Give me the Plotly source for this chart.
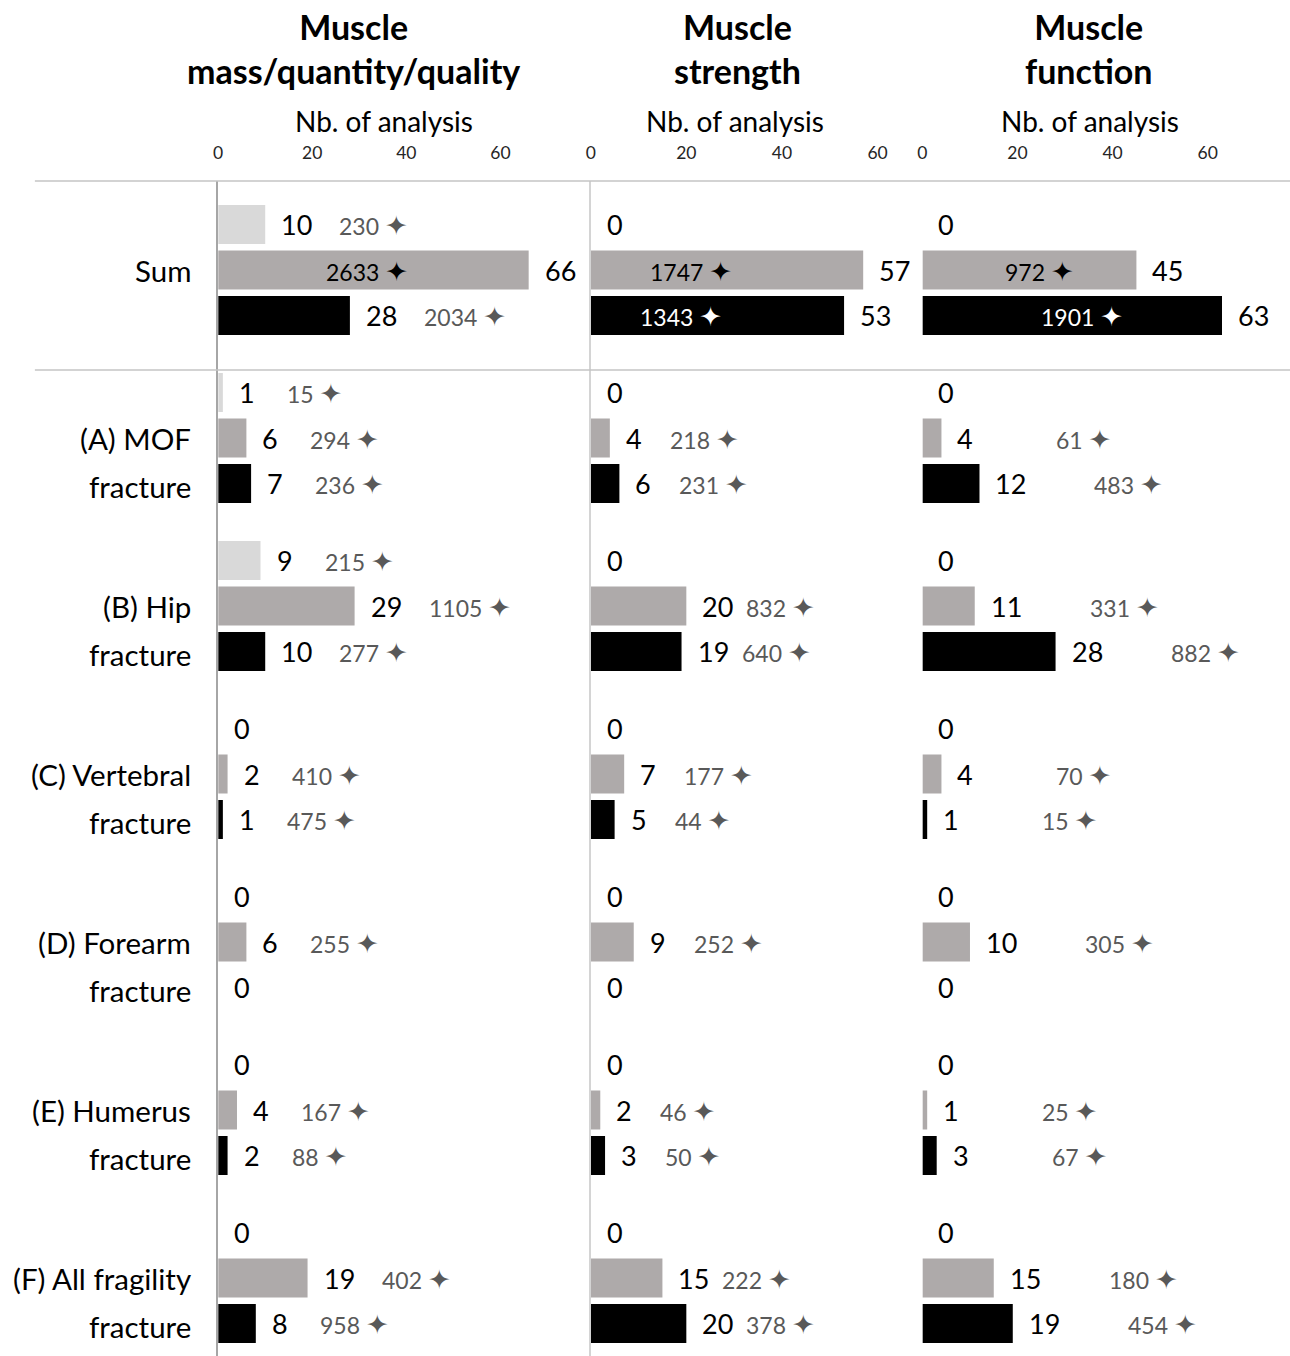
import plotly.graph_objects as go

# ---------------- data ----------------
groups = ["Sum", "(A) MOF fracture", "(B) Hip fracture", "(C) Vertebral fracture",
          "(D) Forearm fracture", "(E) Humerus fracture", "(F) All fragility fracture"]
panel_titles = ["Muscle<br>mass/quantity/quality", "Muscle<br>strength", "Muscle<br>function"]
axis_title = "Nb. of analysis"
tick_values = [0, 20, 40, 60]
series_names = ["Light grey", "Grey", "Black"]

# Muscle mass/quantity/quality
mass_light = [10, 1, 9, 0, 0, 0, 0]
mass_grey = [66, 6, 29, 2, 6, 4, 19]
mass_black = [28, 7, 10, 1, 0, 2, 8]
mass_light_n = [230, 15, 215, None, None, None, None]
mass_grey_n = [2633, 294, 1105, 410, 255, 167, 402]
mass_black_n = [2034, 236, 277, 475, None, 88, 958]

# Muscle strength
strength_light = [0, 0, 0, 0, 0, 0, 0]
strength_grey = [57, 4, 20, 7, 9, 2, 15]
strength_black = [53, 6, 19, 5, 0, 3, 20]
strength_light_n = [None] * 7
strength_grey_n = [1747, 218, 832, 177, 252, 46, 222]
strength_black_n = [1343, 231, 640, 44, None, 50, 378]

# Muscle function
function_light = [0, 0, 0, 0, 0, 0, 0]
function_grey = [45, 4, 11, 4, 10, 1, 15]
function_black = [63, 12, 28, 1, 0, 3, 19]
function_light_n = [None] * 7
function_grey_n = [972, 61, 331, 70, 305, 25, 180]
function_black_n = [1901, 483, 882, 15, None, 67, 454]

# ---------------- style ----------------
W, H = 1290, 1356
TOP = 181
FONT = "Lato, 'DejaVu Sans', sans-serif"
colors = ["#d9d9d9", "#aeaaaa", "#000000"]
STAR = "<span style='font-size:27px'>\u2726</span>"
bargap = 0.1875
bargroupgap = 0.143
slot = (1 - bargap) / 3

panels = [
    dict(counts=[mass_light, mass_grey, mass_black],
         n=[mass_light_n, mass_grey_n, mass_black_n],
         domain=[214 / W, 589 / W], range=[0, 79.4], inside_shift=-6),
    dict(counts=[strength_light, strength_grey, strength_black],
         n=[strength_light_n, strength_grey_n, strength_black_n],
         domain=[588 / W, 922 / W], range=[0, 69.6], inside_shift=-36),
    dict(counts=[function_light, function_grey, function_black],
         n=[function_light_n, function_grey_n, function_black_n],
         domain=[921 / W, 1.0], range=[0, 77.3], inside_shift=10),
]
title_x = [350 / W, 735 / W, 1088 / W]
axtitle_x = [380 / W, 733 / W, 1089 / W]


def star_shift(p, value):
    if p == 0:
        return 52 + 10 * len(str(value))
    if p == 1:
        return 58
    return 113


fig = go.Figure()
annotations = []

for p, panel in enumerate(panels):
    xa = "x" if p == 0 else f"x{p + 1}"
    ya = "y" if p == 0 else f"y{p + 1}"
    for s in range(3):
        vals = panel["counts"][s]
        fig.add_trace(go.Bar(
            y=groups, x=vals, orientation="h", name=series_names[s],
            marker=dict(color=colors[s], line=dict(width=0)),
            xaxis=xa, yaxis=ya, showlegend=False,
        ))
        for g, v in enumerate(vals):
            yy = g + (s - 1) * slot
            annotations.append(dict(
                x=v, y=yy, xref=xa, yref=ya, text=str(v), showarrow=False,
                xanchor="left", yanchor="middle", xshift=14,
                font=dict(family=FONT, size=27, color="#000000"),
            ))
            n = panel["n"][s][g]
            if n is None:
                continue
            if v >= 40:
                annotations.append(dict(
                    x=v / 2, y=yy, xref=xa, yref=ya, text=f"{n} {STAR}",
                    showarrow=False, xanchor="center", yanchor="middle",
                    xshift=panel["inside_shift"],
                    font=dict(family=FONT, size=23,
                              color="#ffffff" if s == 2 else "#000000"),
                ))
            else:
                annotations.append(dict(
                    x=v, y=yy, xref=xa, yref=ya, text=f"{n} {STAR}",
                    showarrow=False, xanchor="left", yanchor="middle",
                    xshift=star_shift(p, v),
                    font=dict(family=FONT, size=23, color="#595959"),
                ))

    # panel titles
    annotations.append(dict(
        x=title_x[p], y=1 + (TOP - 48) / (H - TOP), xref="paper", yref="paper",
        text=f"<b>{panel_titles[p]}</b>", showarrow=False, xanchor="center",
        yanchor="middle", font=dict(family=FONT, size=34, color="#000000"),
    ))
    annotations.append(dict(
        x=axtitle_x[p], y=1 + (TOP - 121) / (H - TOP), xref="paper", yref="paper",
        text=axis_title, showarrow=False, xanchor="center", yanchor="middle",
        font=dict(family=FONT, size=28, color="#000000"),
    ))

# category labels
for g, label in enumerate(groups):
    if label.endswith(" fracture"):
        lines = [label[: -len(" fracture")], "fracture"]
    else:
        lines = [label]
    for i, line in enumerate(lines):
        annotations.append(dict(
            x=189 / W, y=g, xref="paper", yref="y", text=line, showarrow=False,
            xanchor="right", yanchor="middle", yshift=-48 * i,
            font=dict(family=FONT, size=29.5, color="#000000"),
        ))

layout = dict(
    width=W, height=H,
    margin=dict(l=0, r=0, t=TOP, b=0, pad=0),
    paper_bgcolor="#ffffff", plot_bgcolor="#ffffff",
    barmode="group", bargap=bargap, bargroupgap=bargroupgap,
    showlegend=False,
    annotations=annotations,
    shapes=[
        dict(type="line", xref="paper", yref="paper", x0=30 / W, x1=1.0, y0=1, y1=1,
             line=dict(color="#c4c4c4", width=1.5)),
        dict(type="line", xref="paper", yref="paper", x0=30 / W, x1=1.0,
             y0=1 - (370 - TOP) / (H - TOP), y1=1 - (370 - TOP) / (H - TOP),
             line=dict(color="#c4c4c4", width=1.5)),
    ],
)

for p, panel in enumerate(panels):
    xk = "xaxis" if p == 0 else f"xaxis{p + 1}"
    yk = "yaxis" if p == 0 else f"yaxis{p + 1}"
    xa = "x" if p == 0 else f"x{p + 1}"
    layout[xk] = dict(
        domain=panel["domain"], range=panel["range"], side="top",
        anchor="y" if p == 0 else f"y{p + 1}",
        tickvals=tick_values, ticks="outside", ticklen=14,
        tickcolor="rgba(0,0,0,0)", showgrid=False, zeroline=False, showline=False,
        tickfont=dict(family=FONT, size=17.5, color="#262626"), fixedrange=True,
    )
    ydict = dict(
        type="category", categoryorder="array", categoryarray=groups,
        range=[6.464, -0.53], anchor=xa, showticklabels=False, ticks="",
        showgrid=False, zeroline=False,
        showline=(p < 2), linecolor="#a6a6a6" if p == 0 else "#d4d4d4", linewidth=2,
    )
    if p > 0:
        ydict["matches"] = "y"
    layout[yk] = ydict

fig.update_layout(**layout)
fig.write_html("out.html", config={"displayModeBar": False},
               post_script="document.body.style.margin='0px';document.body.style.padding='0px';")
